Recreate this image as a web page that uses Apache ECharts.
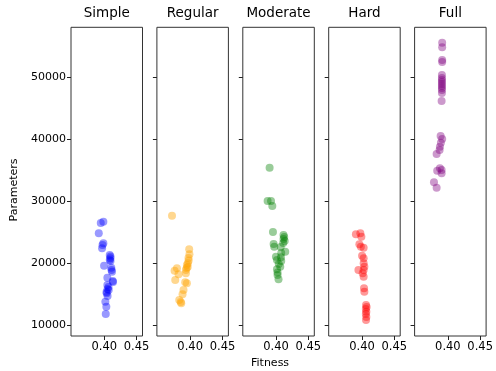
<!DOCTYPE html>
<html>
<head>
<meta charset="utf-8">
<script src="https://cdn.jsdelivr.net/npm/echarts@6/dist/echarts.min.js"></script>
<style>
  html, body { margin: 0; padding: 0; background: #fff; }
  #chart { width: 496px; height: 371px; }
</style>
</head>
<body>
<div id="chart"></div>
<script>
// Panel names
const panels = ['Simple', 'Regular', 'Moderate', 'Hard', 'Full'];
const colors = ['rgba(0,0,255,0.5)', 'rgba(255,165,0,0.55)', 'rgba(0,128,0,0.5)', 'rgba(255,0,0,0.5)', 'rgba(128,0,128,0.5)'];

// Simple
const simpleFitness = [0.3986, 0.3946, 0.3915, 0.3986, 0.3973, 0.3966, 0.4085, 0.4097, 0.4094, 0.4085, 0.4097, 0.3997, 0.4109, 0.4112, 0.4120, 0.4048, 0.4131, 0.4136, 0.4048, 0.4066, 0.4051, 0.4069, 0.4035, 0.4038, 0.4051, 0.4017, 0.4032, 0.4023];
const simpleParams = [26711, 26500, 24840, 23227, 22950, 22420, 21340, 21100, 20807, 20533, 20370, 19613, 19290, 18920, 18646, 17678, 17146, 16984, 16500, 16178, 15855, 15694, 15371, 15162, 14726, 13807, 13000, 11823];

// Regular
const regularFitness = [0.3719, 0.3985, 0.3989, 0.3974, 0.3977, 0.3965, 0.3949, 0.3962, 0.3934, 0.3946, 0.3934, 0.3795, 0.3759, 0.3820, 0.3769, 0.3923, 0.3949, 0.3897, 0.3882, 0.3831, 0.3862, 0.3854];
const regularParams = [27679, 22259, 21452, 20855, 20452, 20001, 19726, 19404, 18920, 19243, 18388, 19194, 18807, 18226, 17307, 16936, 16775, 15694, 15000, 14081, 13549, 13758];

// Moderate
const moderateFitness = [0.3900, 0.3869, 0.3922, 0.3942, 0.3952, 0.4115, 0.4126, 0.4115, 0.4134, 0.4110, 0.3962, 0.3972, 0.4072, 0.4142, 0.4080, 0.3998, 0.4075, 0.4014, 0.4080, 0.4042, 0.4065, 0.4014, 0.4023, 0.4023, 0.4038];
const moderateParams = [35421, 30050, 30050, 29243, 25050, 24565, 24243, 23920, 23598, 23275, 23114, 22678, 22630, 21872, 21662, 21065, 20968, 20533, 20372, 19888, 19452, 19033, 18517, 18113, 17420];

// Hard
const hardFitness = [0.3906, 0.3975, 0.3991, 0.3960, 0.3983, 0.4026, 0.4002, 0.4026, 0.4026, 0.4037, 0.3945, 0.4026, 0.4011, 0.4026, 0.4032, 0.4037, 0.4063, 0.4072, 0.4060, 0.4068, 0.4060, 0.4068, 0.4063];
const hardParams = [24678, 24840, 24291, 23065, 22678, 22517, 21227, 20807, 20001, 19452, 18920, 18920, 18388, 17839, 15968, 15420, 13274, 12952, 12629, 12194, 11823, 11339, 10855];

// Full
const fullFitness = [0.3912, 0.3912, 0.3912, 0.3912, 0.3908, 0.3908, 0.3908, 0.3908, 0.3908, 0.3908, 0.3908, 0.3908, 0.3908, 0.3903, 0.3888, 0.3912, 0.3892, 0.3877, 0.3872, 0.3826, 0.3877, 0.3903, 0.3835, 0.3903, 0.3785, 0.3826];
const fullParams = [55583, 54841, 52793, 52470, 50373, 49890, 49567, 49244, 48922, 48600, 48277, 47955, 47471, 46181, 40535, 40051, 39454, 38808, 38276, 37630, 35324, 35050, 34937, 34518, 33066, 32195];

// Axis ticks
const xTicks = [0.40, 0.45];
const yTicks = [10000, 20000, 30000, 40000, 50000];

const seriesData = [
    [simpleFitness, simpleParams],
    [regularFitness, regularParams],
    [moderateFitness, moderateParams],
    [hardFitness, hardParams],
    [fullFitness, fullParams]
];

const chart = echarts.init(document.getElementById('chart'));
const FONT = 'DejaVu Sans';

const gridLeft = 71, gridStep = 85.9, gridWidth = 71.5, gridTop = 27.3, gridHeight = 308.7;

const grids = [], xAxes = [], yAxes = [], series = [], titles = [];
panels.forEach((name, i) => {
    const left = gridLeft + gridStep * i;
    grids.push({
        left: left, top: gridTop, width: gridWidth, height: gridHeight,
        show: true, borderColor: '#333', borderWidth: 1, backgroundColor: 'transparent'
    });
    titles.push({
        text: name, left: left + gridWidth / 2, top: 6, textAlign: 'center', padding: 0,
        textStyle: { fontFamily: FONT, fontSize: 13.5, fontWeight: 'normal', color: '#000' }
    });
    xAxes.push({
        type: 'value', gridIndex: i, min: 0.3485, max: 0.4592,
        axisLine: { show: false },
        splitLine: { show: false },
        axisTick: { show: true, length: 4, customValues: xTicks, lineStyle: { color: '#222' } },
        axisLabel: {
            customValues: xTicks, margin: 5, color: '#000', fontFamily: FONT, fontSize: 11.5,
            formatter: v => v.toFixed(2)
        }
    });
    yAxes.push({
        type: 'value', gridIndex: i, min: 8274, max: 58065,
        axisLine: { show: false },
        splitLine: { show: false },
        axisTick: { show: true, length: 4, customValues: yTicks, lineStyle: { color: '#222' } },
        axisLabel: {
            show: i === 0, customValues: yTicks, margin: 5, color: '#000', fontFamily: FONT, fontSize: 11,
            formatter: v => String(Math.round(v))
        }
    });
    const xs = seriesData[i][0], ys = seriesData[i][1];
    series.push({
        type: 'scatter', xAxisIndex: i, yAxisIndex: i,
        symbolSize: 8,
        itemStyle: { color: colors[i] },
        data: xs.map((x, k) => [x, ys[k]])
    });
});

chart.setOption({
    animation: false,
    title: titles,
    grid: grids,
    xAxis: xAxes,
    yAxis: yAxes,
    series: series,
    graphic: [
        {
            type: 'text', left: 251, top: 358,
            style: { text: 'Fitness', fontFamily: FONT, fontSize: 11, fill: '#000' }
        },
        {
            type: 'text', x: 14, y: 190, rotation: Math.PI / 2,
            style: { text: 'Parameters', fontFamily: FONT, fontSize: 11, fill: '#000', align: 'center', verticalAlign: 'middle' }
        }
    ]
});
</script>
</body>
</html>
